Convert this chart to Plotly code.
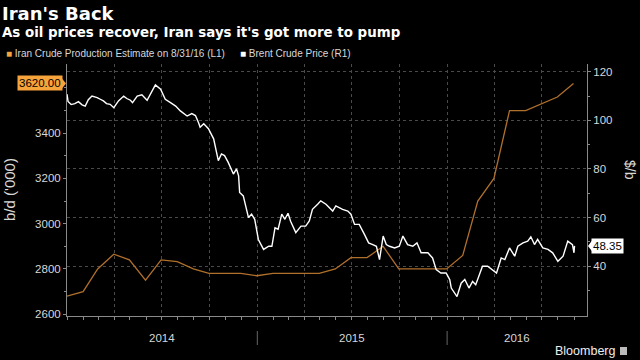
import plotly.graph_objects as go

# ---- data ----
iran_dates = ["2013-12-31", "2014-01-31", "2014-02-28", "2014-03-31", "2014-04-30", "2014-05-31",
              "2014-06-30", "2014-07-31", "2014-08-31", "2014-09-30", "2014-10-31", "2014-11-30",
              "2014-12-31", "2015-01-31", "2015-02-28", "2015-03-31", "2015-04-30", "2015-05-31",
              "2015-06-30", "2015-07-31", "2015-08-31", "2015-09-30", "2015-10-31", "2015-11-30",
              "2015-12-31", "2016-01-31", "2016-02-29", "2016-03-31", "2016-04-30", "2016-05-31",
              "2016-06-30", "2016-07-31", "2016-08-31"]
iran_values = [2680, 2700, 2800, 2865, 2840, 2750, 2840, 2832, 2800, 2780, 2780, 2780,
               2770, 2780, 2780, 2780, 2780, 2800, 2850, 2850, 2900, 2800, 2800, 2800,
               2800, 2860, 3100, 3200, 3500, 3500, 3530, 3560, 3620]

brent_dates = ["2013-12-31", "2014-01-02", "2014-01-08", "2014-01-15", "2014-01-22", "2014-01-29",
               "2014-02-04", "2014-02-10", "2014-02-17", "2014-02-27", "2014-03-05", "2014-03-11",
               "2014-03-17", "2014-03-24", "2014-03-31", "2014-04-09", "2014-04-19", "2014-04-25",
               "2014-05-02", "2014-05-06", "2014-05-15", "2014-05-24", "2014-06-03", "2014-06-10",
               "2014-06-19", "2014-06-29", "2014-07-08", "2014-07-18", "2014-07-28", "2014-08-06",
               "2014-08-19", "2014-08-28", "2014-09-04", "2014-09-10", "2014-09-13", "2014-09-20",
               "2014-09-29", "2014-10-09", "2014-10-18", "2014-10-24", "2014-10-30", "2014-11-06",
               "2014-11-16", "2014-11-22", "2014-11-26", "2014-11-28", "2014-12-05", "2014-12-15",
               "2014-12-21", "2014-12-27", "2015-01-03", "2015-01-13", "2015-01-23", "2015-01-29",
               "2015-02-04", "2015-02-10", "2015-02-17", "2015-02-23", "2015-03-01", "2015-03-06",
               "2015-03-16", "2015-03-26", "2015-04-04", "2015-04-11", "2015-04-17", "2015-04-27",
               "2015-05-03", "2015-05-13", "2015-05-26", "2015-06-01", "2015-06-14", "2015-06-24",
               "2015-06-30", "2015-07-07", "2015-07-16", "2015-07-26", "2015-08-03", "2015-08-11",
               "2015-08-18", "2015-08-24", "2015-08-31", "2015-09-06", "2015-09-12", "2015-09-22",
               "2015-10-01", "2015-10-08", "2015-10-17", "2015-10-27", "2015-11-04", "2015-11-12",
               "2015-11-25", "2015-12-04", "2015-12-11", "2015-12-20", "2015-12-30", "2016-01-06",
               "2016-01-09", "2016-01-20", "2016-01-28", "2016-02-04", "2016-02-12", "2016-02-19",
               "2016-02-25", "2016-03-03", "2016-03-09", "2016-03-19", "2016-03-28", "2016-04-05",
               "2016-04-14", "2016-04-21", "2016-04-30", "2016-05-10", "2016-05-16", "2016-05-26",
               "2016-06-04", "2016-06-10", "2016-06-17", "2016-06-23", "2016-07-03", "2016-07-13",
               "2016-07-22", "2016-08-01", "2016-08-11", "2016-08-20", "2016-08-29", "2016-09-01",
               "2016-09-02"]
brent_values = [110.8, 107.8, 106.5, 106.9, 107.7, 106.4,
                105.9, 108.5, 110.0, 109.4, 108.7, 108.0,
                106.9, 106.6, 105.2, 108.0, 110.0, 109.0,
                108.3, 107.3, 110.0, 110.5, 108.3, 110.8,
                114.6, 112.8, 108.7, 107.3, 105.9, 103.9,
                101.8, 102.8, 102.0, 99.0, 97.2, 98.6,
                96.6, 92.4, 83.4, 86.2, 85.5, 82.7,
                77.9, 80.0, 77.2, 70.3, 68.9, 60.0,
                61.4, 59.3, 51.0, 46.9, 48.2, 48.2,
                55.8, 55.2, 61.4, 59.3, 61.8, 58.5,
                53.8, 56.5, 56.5, 58.6, 63.4, 65.5,
                66.9, 65.5, 62.7, 64.8, 63.4, 62.7,
                61.4, 57.2, 57.2, 53.1, 49.6, 48.9,
                48.2, 42.7, 52.4, 48.9, 48.2, 47.5,
                48.2, 52.4, 48.9, 48.2, 49.6, 45.5,
                45.5, 43.4, 38.6, 37.2, 37.2, 34.5,
                31.0, 27.5, 33.0, 34.5, 31.0, 33.7,
                32.4, 36.5, 40.0, 40.0, 38.6, 37.2,
                43.4, 42.7, 47.5, 44.1, 48.2, 49.6,
                50.3, 52.1, 48.9, 51.0, 47.5, 46.9,
                45.5, 42.0, 44.1, 50.3, 48.9, 45.5,
                48.35]

year_labels = ["2014", "2015", "2016"]
year_label_pos = ["2014-07-02", "2015-07-02", "2016-05-14"]
year_breaks = ["2015-01-01", "2016-01-01"]

left_ticks = [2600, 2800, 3000, 3200, 3400]
left_minor = [2700, 2900, 3100, 3300, 3500, 3600]
right_ticks = [40, 60, 80, 100, 120]
right_minor = [30, 50, 70, 90, 110]

ORANGE_LINE = "#b0702c"
ORANGE_TAG = "#f5a33a"
AXIS = "#8a8a8a"
GRID = "#4a4a4a"
TXT = "#d8d8d8"
FONT = "Liberation Sans"

fig = go.Figure()
fig.add_trace(go.Scatter(x=iran_dates, y=iran_values, mode="lines",
                         line=dict(color=ORANGE_LINE, width=1.3), yaxis="y", showlegend=False))
fig.add_trace(go.Scatter(x=brent_dates, y=brent_values, mode="lines",
                         line=dict(color="#ffffff", width=1.4), yaxis="y2", showlegend=False))

fig.update_layout(
    width=640, height=360,
    margin=dict(l=67, r=53, t=64, b=44),
    paper_bgcolor="black", plot_bgcolor="black",
    font=dict(family=FONT, color=TXT, size=11),
    xaxis=dict(type="date", range=["2013-12-31", "2016-09-26"],
               showline=True, linecolor=AXIS, linewidth=1,
               dtick="M3", tick0="2014-01-01", ticks="outside", ticklen=3, tickcolor=AXIS,
               showticklabels=False,
               showgrid=True, gridcolor=GRID, griddash="dot", gridwidth=1,
               minor=dict(dtick="M1", tick0="2014-01-01", ticks="outside", ticklen=3,
                          tickcolor=AXIS, showgrid=False),
               zeroline=False),
    yaxis=dict(range=[2592, 3706], side="left", showline=True, linecolor=AXIS,
               tickmode="array", tickvals=left_ticks, ticks="outside", ticklen=3,
               tickcolor=AXIS, showgrid=False, zeroline=False,
               tickfont=dict(size=11.5, color=TXT),
               minor=dict(tickmode="array", tickvals=left_minor, ticks="outside",
                          ticklen=2, tickcolor=AXIS, showgrid=False)),
    yaxis2=dict(range=[19.5, 123.2], side="right", overlaying="y", showline=True,
                linecolor=AXIS, tickmode="array", tickvals=right_ticks, ticks="outside",
                ticklen=3, tickcolor=AXIS, showgrid=True, gridcolor=GRID, griddash="dot",
                zeroline=False, tickfont=dict(size=11.5, color=TXT),
                minor=dict(tickmode="array", tickvals=right_minor, ticks="outside",
                           ticklen=2, tickcolor=AXIS, showgrid=False)),
)

ann = []
# title and subtitle
ann.append(dict(text="<b>Iran's Back</b>", xref="paper", yref="paper",
                x=-67/520, y=(316-13)/252, xanchor="left", yanchor="middle",
                showarrow=False, font=dict(family="DejaVu Sans", size=18, color="white")))
ann.append(dict(text="<b>As oil prices recover, Iran says it's got more to pump</b>",
                xref="paper", yref="paper", x=-67/520, y=(316-32)/252,
                xanchor="left", yanchor="middle", showarrow=False,
                font=dict(family="DejaVu Sans", size=13.4, color="white")))
# legend
ann.append(dict(text=f"<span style='color:{ORANGE_TAG}'>■</span> Iran Crude Production Estimate on 8/31/16 (L1)",
                xref="paper", yref="paper", x=-63/520, y=(316-53.5)/252,
                xanchor="left", yanchor="middle", showarrow=False,
                font=dict(family=FONT, size=10, color=TXT)))
ann.append(dict(text="<span style='color:#ffffff'>■</span> Brent Crude Price (R1)",
                xref="paper", yref="paper", x=(238-67)/520, y=(316-53.5)/252,
                xanchor="left", yanchor="middle", showarrow=False,
                font=dict(family=FONT, size=10, color=TXT)))
# axis titles
ann.append(dict(text="b/d ('000)", xref="paper", yref="paper", x=(9-67)/520, y=(316-190)/252,
                xanchor="center", yanchor="middle", textangle=-90, showarrow=False,
                font=dict(family=FONT, size=15, color=TXT)))
ann.append(dict(text="$/b", xref="paper", yref="paper", x=(630-67)/520, y=(316-170)/252,
                xanchor="center", yanchor="middle", textangle=90, showarrow=False,
                font=dict(family=FONT, size=14, color=TXT)))
# year labels
for lab, pos in zip(year_labels, year_label_pos):
    ann.append(dict(text=lab, x=pos, xref="x", yref="paper", y=(316-338)/252,
                    xanchor="center", yanchor="middle", showarrow=False,
                    font=dict(family=FONT, size=11.5, color=TXT)))
# last-value tags
ann.append(dict(text=f"{iran_values[-1]:.2f}", xref="paper", yref="y", x=-4/520,
                y=iran_values[-1], xanchor="right", yanchor="middle", showarrow=False,
                bgcolor=ORANGE_TAG, borderpad=1, font=dict(family=FONT, size=11.5, color="black")))
ann.append(dict(text=f"{brent_values[-1]:.2f}", xref="paper", yref="y2", x=1+4/520,
                y=brent_values[-1], xanchor="left", yanchor="middle", showarrow=False,
                bgcolor="white", borderpad=1, font=dict(family=FONT, size=11.5, color="black")))
# source
ann.append(dict(text="Bloomberg", xref="paper", yref="paper", x=(617-67)/520, y=(316-351)/252,
                xanchor="right", yanchor="middle", showarrow=False,
                font=dict(family=FONT, size=12.5, color="#eeeeee")))
fig.update_layout(annotations=ann)

shapes = []
for b in year_breaks:
    shapes.append(dict(type="line", xref="x", yref="paper", x0=b, x1=b,
                       y0=(316-331)/252, y1=(316-345)/252, line=dict(color="#666666", width=1)))
# tag pointers
iy = iran_values[-1]
shapes.append(dict(type="path", xref="paper", yref="y",
                   path=f"M {-5/520},{iy+22} L {-1/520},{iy} L {-5/520},{iy-22} Z",
                   fillcolor=ORANGE_TAG, line=dict(width=0)))
by = brent_values[-1]
shapes.append(dict(type="path", xref="paper", yref="y2",
                   path=f"M {1+5/520},{by+2.2} L {1+1/520},{by} L {1+5/520},{by-2.2} Z",
                   fillcolor="white", line=dict(width=0)))
# bloomberg icon
shapes.append(dict(type="rect", xref="paper", yref="paper", x0=(620-67)/520, x1=(627-67)/520,
                   y0=(316-355)/252, y1=(316-347)/252, fillcolor="#bbbbbb", line=dict(width=0)))
fig.update_layout(shapes=shapes)

fig.write_html("out.html", config={"displayModeBar": False},
               post_script="document.body.style.margin='0';document.body.style.background='black';")
